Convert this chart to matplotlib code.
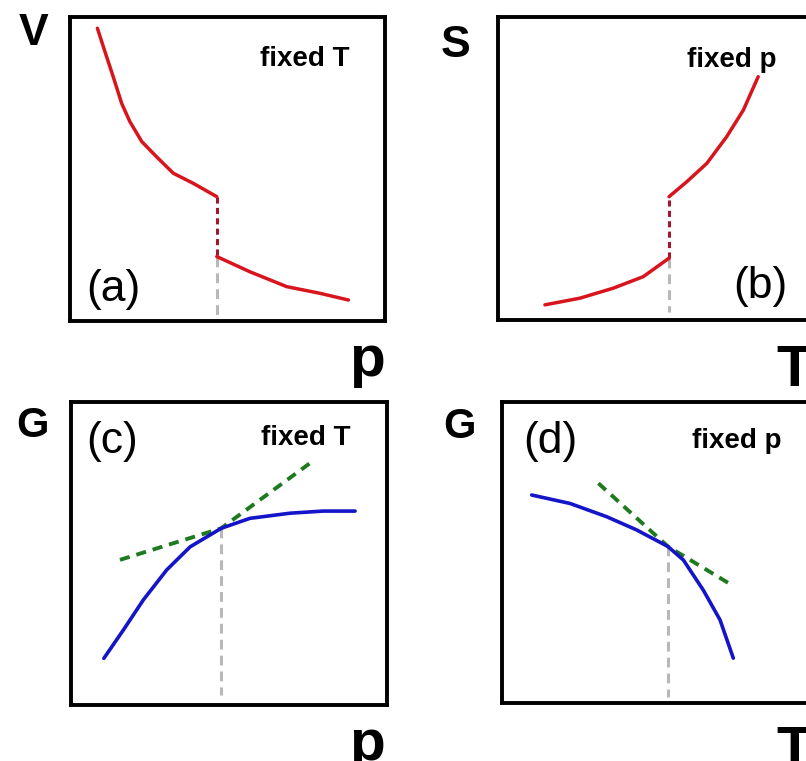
import matplotlib
matplotlib.use("Agg")
import matplotlib.pyplot as plt

plt.rcParams['font.family'] = ['Liberation Sans', 'DejaVu Sans']

W, H = 806, 761

# (a) V against p at fixed T, two branches and the jump
a_p_hi = [0.87, 1.11, 1.37, 1.64, 1.90, 2.28, 2.75, 3.28, 3.91, 4.66]
a_V_hi = [9.63, 8.86, 8.04, 7.16, 6.56, 5.90, 5.40, 4.86, 4.53, 4.09]
a_p_lo = [4.66, 5.71, 6.88, 7.94, 8.84]
a_V_lo = [2.12, 1.62, 1.13, 0.91, 0.69]
a_p_trans = 4.66

# (b) S against T at fixed p
b_T_lo = [1.49, 2.60, 3.66, 4.61, 5.43]
b_S_lo = [0.50, 0.72, 1.05, 1.43, 2.04]
b_T_hi = [5.43, 5.99, 6.63, 7.26, 7.79, 8.26]
b_S_hi = [4.07, 4.56, 5.17, 6.05, 6.93, 8.03]
b_T_trans = 5.43

# (c) G against p at fixed T, with the metastable continuations
c_p = [1.04, 1.66, 2.29, 3.03, 3.77, 4.75, 5.66, 6.93, 7.98, 8.99]
c_G = [1.54, 2.48, 3.47, 4.46, 5.22, 5.83, 6.16, 6.33, 6.40, 6.40]
c_p_meta = [1.55, 4.75, 7.56]
c_G_meta = [4.79, 5.83, 7.98]
c_p_trans = 4.75

# (d) G against T at fixed p
d_T = [0.94, 2.15, 3.31, 4.26, 5.25, 5.74, 6.37, 6.90, 7.32]
d_G = [6.91, 6.63, 6.19, 5.75, 5.20, 4.75, 3.75, 2.76, 1.49]
d_T_meta = [3.05, 5.25, 7.27]
d_G_meta = [7.30, 5.20, 3.92]
d_T_trans = 5.25

RED = '#d8141c'
DKRED = '#a01830'
BLUE = '#1414c8'
GREEN = '#1e7a1e'
GRAY = '#b8b8b8'


def rect(left, top, right, bottom):
    return [left / W, 1 - bottom / H, (right - left) / W, (bottom - top) / H]


def frame(ax):
    ax.set_xlim(0, 10)
    ax.set_ylim(0, 10)
    ax.set_xticks([])
    ax.set_yticks([])
    for s in ax.spines.values():
        s.set_linewidth(2.8)
        s.set_color('black')


def ftext(x, y, s, size, weight='bold', ha='left', va='baseline'):
    fig.text(x / W, 1 - y / H, s, fontsize=size, fontweight=weight,
             ha=ha, va=va)


fig = plt.figure(figsize=(W / 100, H / 100), dpi=100)
fig.patch.set_facecolor('white')

ax_a = fig.add_axes(rect(70, 17, 385, 321))
ax_b = fig.add_axes(rect(498, 17, 813, 320))
ax_c = fig.add_axes(rect(71, 402, 387, 705))
ax_d = fig.add_axes(rect(502, 402, 818, 703))
for ax in (ax_a, ax_b, ax_c, ax_d):
    frame(ax)

gray_kw = dict(color=GRAY, lw=2.2, dashes=(3.2, 2.0))
green_kw = dict(color=GREEN, lw=2.8, dashes=(2.6, 1.8))

# (a)
ax_a.plot([a_p_trans, a_p_trans], [a_V_lo[0], 0.13], **gray_kw)
ax_a.plot([a_p_trans, a_p_trans], [a_V_hi[-1], a_V_lo[0]],
          color=DKRED, lw=2.2, dashes=(2.0, 1.4))
ax_a.plot(a_p_hi, a_V_hi, color=RED, lw=2.5, solid_capstyle='round')
ax_a.plot(a_p_lo, a_V_lo, color=RED, lw=2.5, solid_capstyle='round')

# (b)
ax_b.plot([b_T_trans, b_T_trans], [b_S_lo[-1], 0.26], **gray_kw)
ax_b.plot([b_T_trans, b_T_trans], [b_S_lo[-1], b_S_hi[0]],
          color=DKRED, lw=2.2, dashes=(2.0, 1.4))
ax_b.plot(b_T_lo, b_S_lo, color=RED, lw=2.5, solid_capstyle='round')
ax_b.plot(b_T_hi, b_S_hi, color=RED, lw=2.5, solid_capstyle='round')

# (c)
ax_c.plot([c_p_trans, c_p_trans], [c_G[5], 0.33], **gray_kw)
ax_c.plot(c_p_meta, c_G_meta, **green_kw)
ax_c.plot(c_p, c_G, color=BLUE, lw=2.6, solid_capstyle='round')

# (d)
ax_d.plot([d_T_trans, d_T_trans], [d_G[4], 0.2], **gray_kw)
ax_d.plot(d_T_meta, d_G_meta, **green_kw)
ax_d.plot(d_T, d_G, color=BLUE, lw=2.6, solid_capstyle='round')

# axis letters
ftext(19, 45, 'V', 32)
ftext(441, 57, 'S', 32)
ftext(16, 437, 'G', 30)
ftext(443, 438, 'G', 30)
ftext(349, 376, 'p', 42)
ftext(349, 760, 'p', 42)
ftext(776, 386, 'T', 42)
ftext(776, 767, 'T', 42)

# conditions
ftext(260, 66, 'fixed T', 20)
ftext(687, 67, 'fixed p', 20)
ftext(261, 445, 'fixed T', 20)
ftext(692, 448, 'fixed p', 20)

# panel tags
ftext(86, 301, '(a)', 32, weight='normal')
ftext(733, 298, '(b)', 32, weight='normal')
ftext(86, 453, '(c)', 32, weight='normal')
ftext(523, 453, '(d)', 32, weight='normal')

fig.savefig('out.png', dpi=100)
